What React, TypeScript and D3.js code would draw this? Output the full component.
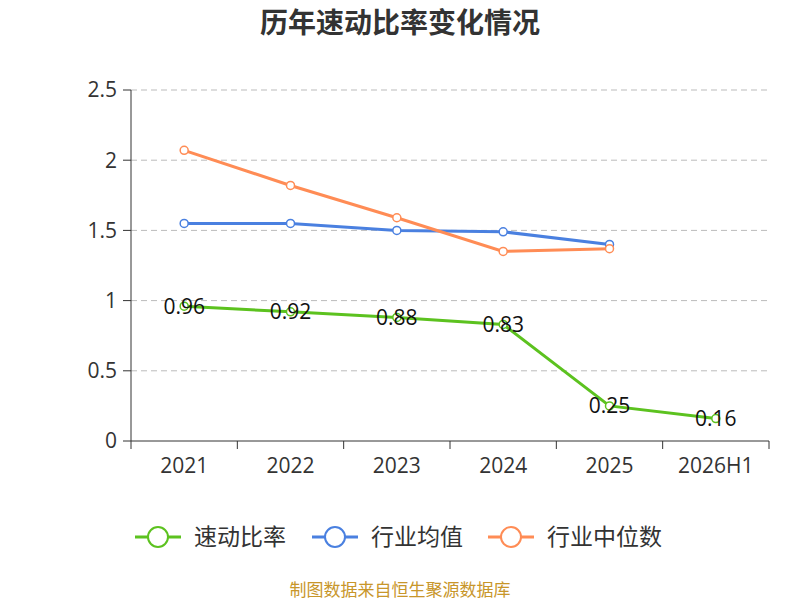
import React from "react";
import * as d3 from "d3";

const categories = ["2021", "2022", "2023", "2024", "2025", "2026H1"];
const quickRatio = [0.96, 0.92, 0.88, 0.83, 0.25, 0.16];
const industryAvg = [1.55, 1.55, 1.5, 1.49, 1.4];
const industryMedian = [2.07, 1.82, 1.59, 1.35, 1.37];
const yTicks = [0, 0.5, 1, 1.5, 2, 2.5];

const font = "'Open Sans', 'Noto Sans CJK SC', sans-serif";

const App: React.FC = () => {
  const left = 131, right = 769, top = 90, bottom = 441;
  const x = d3.scaleBand().domain(categories).range([left, right]);
  const y = d3.scaleLinear().domain([0, 2.5]).range([bottom, top]);
  const cx = (i: number) => (x(categories[i]) ?? 0) + x.bandwidth() / 2;
  const line = d3.line<number>().x((_, i) => cx(i)).y((d) => y(d));

  const series = [
    { name: "速动比率", data: quickRatio, color: "#5cc21f", labels: true },
    { name: "行业均值", data: industryAvg, color: "#4a80e0", labels: false },
    { name: "行业中位数", data: industryMedian, color: "#ff8c55", labels: false },
  ];
  const legendX = [135, 312, 488];

  return (
    <svg width={800} height={600} style={{ position: "absolute", left: 0, top: 0, fontFamily: font }}>
      <rect width={800} height={600} fill="#fff" />
      <text x={400} y={33} textAnchor="middle" fontSize={28} fontWeight="bold" fill="#333">
        历年速动比率变化情况
      </text>
      {yTicks.map((t) => (
        <g key={t}>
          {t > 0 && (
            <line x1={left} x2={right} y1={y(t)} y2={y(t)} stroke="#bbb" strokeDasharray="6,4" />
          )}
          <line x1={left - 8} x2={left} y1={y(t)} y2={y(t)} stroke="#333" />
          <text x={left - 14} y={y(t)} dy="0.35em" textAnchor="end" fontSize={21} fill="#333">
            {t}
          </text>
        </g>
      ))}
      <line x1={left} x2={left} y1={top} y2={bottom} stroke="#333" />
      <line x1={left} x2={right} y1={bottom} y2={bottom} stroke="#333" />
      {d3.range(categories.length + 1).map((i) => (
        <line key={i} x1={left + i * x.bandwidth()} x2={left + i * x.bandwidth()} y1={bottom} y2={bottom + 8} stroke="#333" />
      ))}
      {categories.map((c, i) => (
        <text key={c} x={cx(i)} y={466} dy="0.35em" textAnchor="middle" fontSize={21} fill="#333">
          {c}
        </text>
      ))}
      {series.map((s) => (
        <g key={s.name}>
          <path d={line(s.data) ?? ""} fill="none" stroke={s.color} strokeWidth={3} />
          {s.data.map((d, i) => (
            <circle key={i} cx={cx(i)} cy={y(d)} r={4} fill="#fff" stroke={s.color} strokeWidth={1.5} />
          ))}
          {s.labels &&
            s.data.map((d, i) => (
              <text key={"l" + i} x={cx(i)} y={y(d)} dy="0.35em" textAnchor="middle" fontSize={21} fill="#111">
                {d.toFixed(2)}
              </text>
            ))}
        </g>
      ))}
      {series.map((s, i) => (
        <g key={"lg" + s.name} transform={`translate(${legendX[i]},537)`}>
          <line x1={0} x2={46} y1={0} y2={0} stroke={s.color} strokeWidth={3} />
          <circle cx={23} cy={0} r={10} fill="#fff" stroke={s.color} strokeWidth={2} />
          <text x={59} y={0} dy="0.35em" fontSize={23} fill="#333">
            {s.name}
          </text>
        </g>
      ))}
      <text x={400} y={596} textAnchor="middle" fontSize={17} fill="#c8962a">
        制图数据来自恒生聚源数据库
      </text>
    </svg>
  );
};

export default App;
